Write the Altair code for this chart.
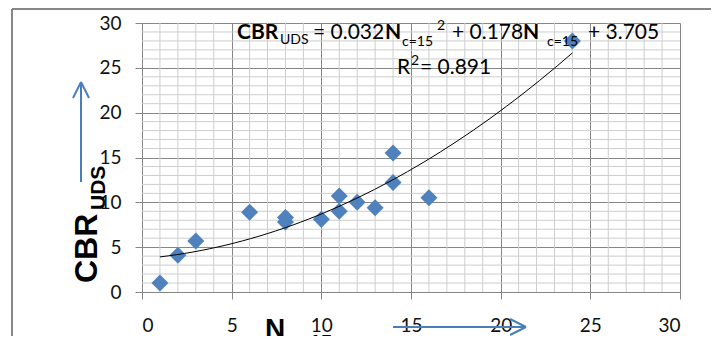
import altair as alt
import pandas as pd

# data
n_c15 = [1, 2, 3, 6, 8, 8, 10, 11, 11, 12, 13, 14, 14, 16, 24]
cbr_uds = [1.0, 4.1, 5.7, 8.9, 8.3, 7.8, 8.1, 10.7, 9.0, 10.0, 9.4, 15.5, 12.2, 10.5, 28.0]
major_ticks = [0, 5, 10, 15, 20, 25, 30]
minor_ticks = [1, 2, 3, 4, 6, 7, 8, 9, 11, 12, 13, 14, 16, 17, 18, 19,
               21, 22, 23, 24, 26, 27, 28, 29]

df = pd.DataFrame({"n": n_c15, "cbr": cbr_uds})
minor_df = pd.DataFrame({"v": minor_ticks})

W, H = 538, 269
BLUE = "#4F81BD"
ARROW = "#4a7ebb"
FONT = "Lato"
BFONT = "Liberation Sans"

xs = alt.Scale(domain=[0, 30], nice=False)
ys = alt.Scale(domain=[0, 30], nice=False)

axis_common = dict(values=major_ticks, grid=True, gridColor="#868686", gridWidth=1,
                   domainColor="#868686", tickColor="#868686", tickSize=7,
                   labelFont=FONT, labelFontSize=19, labelColor="#111111", title=None)
x_axis = alt.Axis(labelPadding=17, **axis_common)
y_axis = alt.Axis(labelPadding=14, **axis_common)

minor_x = alt.Chart(minor_df).mark_rule(color="#cdcdcd", strokeWidth=1).encode(
    x=alt.X("v:Q", scale=xs, axis=x_axis))
minor_y = alt.Chart(minor_df).mark_rule(color="#cdcdcd", strokeWidth=1).encode(
    y=alt.Y("v:Q", scale=ys, axis=y_axis))

points = alt.Chart(df).mark_point(shape="diamond", filled=True, size=290,
                                  color=BLUE, opacity=1).encode(
    x=alt.X("n:Q", scale=xs, axis=x_axis),
    y=alt.Y("cbr:Q", scale=ys, axis=y_axis),
)

trend = alt.Chart(df).transform_regression(
    "n", "cbr", method="poly", order=2, extent=[1, 24]
).mark_line(color="#000000", strokeWidth=1).encode(
    x=alt.X("n:Q", scale=xs, axis=x_axis), y=alt.Y("cbr:Q", scale=ys, axis=y_axis))


def txt(s, x, y, size, bold=False, font=FONT, angle=None):
    kw = dict(text=s, align="left", baseline="alphabetic", fontSize=size,
              font=font, fontWeight="bold" if bold else "normal", color="#000000")
    if angle is not None:
        kw["angle"] = angle
    return alt.Chart(df.head(1)).mark_text(**kw).encode(
        x=alt.value(x), y=alt.value(y))


def line(x1, y1, x2, y2, color=ARROW, w=2):
    return alt.Chart(df.head(1)).mark_rule(color=color, strokeWidth=w).encode(
        x=alt.value(x1), y=alt.value(y1), x2=alt.value(x2), y2=alt.value(y2))


texts = [
    txt("CBR", 95, 16, 21, bold=True),
    txt("UDS", 138, 21, 14),
    txt("= 0.032", 171, 16, 21),
    txt("N", 243, 16, 21, bold=True),
    txt("c=15", 260, 23, 14),
    txt("2", 295, 7, 14),
    txt("+ 0.178", 310, 16, 21),
    txt("N", 381, 16, 21, bold=True),
    txt("c=15", 405, 23, 14),
    txt("+ 3.705", 446, 16, 21),
    txt("R", 255, 51, 21),
    txt("2", 269, 42, 14),
    txt("= 0.891", 278, 51, 21),
    # axis titles
    txt("CBR", -45, 260, 32, bold=True, font=BFONT, angle=270),
    txt("UDS", -37, 187, 21, bold=True, font=BFONT, angle=270),
    txt("N", 123, 315, 28, bold=True, font=BFONT),
    txt("c=15", 145, 326, 20, bold=True, font=BFONT),
]

decor = [
    # outer border (top and left)
    line(-130, -14, 700, -14, color="#878787", w=2),
    line(-130, -14, -130, 400, color="#878787", w=2),
    # vertical arrow
    line(-61, 59, -61, 159),
    line(-61, 59, -69, 75),
    line(-61, 59, -53, 75),
    # horizontal arrow
    line(251, 304, 384, 304),
    line(384, 304, 368, 296),
    line(384, 304, 368, 312),
]

chart = alt.layer(minor_x, minor_y, points, trend, *texts, *decor).properties(
    width=W, height=H,
    padding={"left": 134, "top": 15, "right": 31, "bottom": 44},
    autosize=alt.AutoSizeParams(type="none"),
).configure_view(stroke=None).configure(background="white")

chart.save("out.html", embed_options={"renderer": "svg", "actions": False})
